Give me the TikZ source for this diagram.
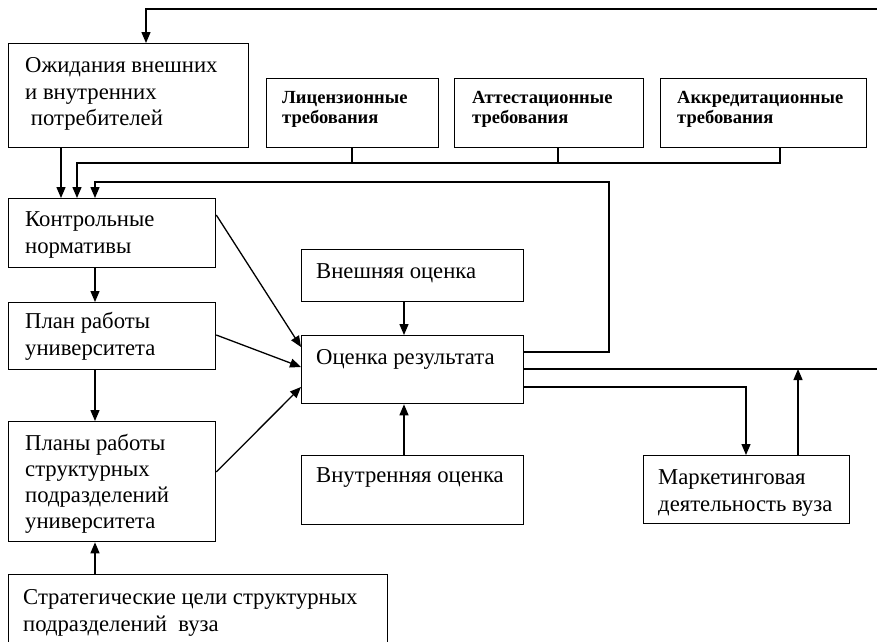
\documentclass[tikz,border=0pt]{standalone}
\usepackage{fontspec}
\setmainfont{Liberation Serif}
\usetikzlibrary{arrows.meta,calc}
\begin{document}
\begin{tikzpicture}[x=1pt,y=-1pt,
  box/.style={draw,line width=1.3pt,anchor=north west,inner sep=0pt},
  txt/.style={anchor=north west,inner sep=0pt,align=left,font=\fontsize{22.7}{26.5}\selectfont},
  btxt/.style={anchor=north west,inner sep=0pt,align=left,font=\fontsize{18.5}{20}\selectfont\bfseries},
  con/.style={line width=1.3pt},
  arr/.style={con,-{Triangle[length=11pt,width=9pt]}}]
\useasboundingbox (0,0) rectangle (877,641);
% boxes
\node[box,minimum width=240pt,minimum height=104pt] (exp) at (8,43) {};
\node[box,minimum width=172pt,minimum height=69pt] (lic) at (266,78) {};
\node[box,minimum width=189pt,minimum height=69pt] (att) at (454,78) {};
\node[box,minimum width=206pt,minimum height=69pt] (acc) at (660,78) {};
\node[box,minimum width=207pt,minimum height=69pt] (kon) at (8,198) {};
\node[box,minimum width=207pt,minimum height=67pt] (pln) at (8,302) {};
\node[box,minimum width=207pt,minimum height=120pt] (plns) at (8,421) {};
\node[box,minimum width=379pt,minimum height=90pt] (str) at (8,574) {};
\node[box,minimum width=222pt,minimum height=52pt] (ext) at (301,249) {};
\node[box,minimum width=222pt,minimum height=68pt] (oc) at (301,335) {};
\node[box,minimum width=222pt,minimum height=69pt] (int) at (301,455) {};
\node[box,minimum width=206pt,minimum height=68pt] (mkt) at (643,455) {};
% texts
\node[txt] (exp-t) at (25,57.5) {Ожидания внешних\\и внутренних\\\ потребителей};
\node[btxt] (lic-t) at (282,90.7) {Лицензионные\\требования};
\node[btxt] (att-t) at (472,90.7) {Аттестационные\\требования};
\node[btxt] (acc-t) at (677,90.7) {Аккредитационные\\требования};
\node[txt] (kon-t) at (25,211.5) {Контрольные\\нормативы};
\node[txt] (pln-t) at (25,312.5) {План работы\\университета};
\node[txt,font=\fontsize{22.7}{26}\selectfont] (plns-t) at (25,434) {Планы работы\\структурных\\подразделений\\университета};
\node[txt] (str-t) at (23,589.5) {Стратегические цели структурных\\подразделений\ \ вуза};
\node[txt] (ext-t) at (316,263.5) {Внешняя оценка};
\node[txt] (oc-t) at (316,349.5) {Оценка результата};
\node[txt] (int-t) at (316,467.5) {Внутренняя оценка};
\node[txt] (mkt-t) at (658,469.5) {Маркетинговая\\деятельность вуза};
% helper coordinates
\coordinate (x61) at (61,0);
\coordinate (x77) at (77,0);
\coordinate (x95) at (95,0);
\coordinate (x146) at (146,0);
\coordinate (x352) at (352,0);
\coordinate (x404) at (404,0);
\coordinate (x558) at (558,0);
\coordinate (x609) at (609,0);
\coordinate (x746) at (746,0);
\coordinate (x780) at (780,0);
\coordinate (x798) at (798,0);
\coordinate (x881) at (881,0);
\coordinate (y9) at (0,9);
\coordinate (y163) at (0,163);
\coordinate (y182) at (0,182);
\coordinate (y215) at (0,215);
\coordinate (y335) at (0,335);
\coordinate (y347) at (0,347);
\coordinate (y352) at (0,352);
\coordinate (y367) at (0,367);
\coordinate (y369) at (0,369);
\coordinate (y387) at (0,387);
\coordinate (y472) at (0,472);
% connectors
\draw[arr] (oc.east |- y369) -- (x881 |- y369) -- (x881 |- y9) -- (x146 |- y9) -- (exp.north -| x146);
\draw[arr] (exp.south -| x61) -- (kon.north -| x61);
\draw[con] (lic.south -| x352) -- (x352 |- y163);
\draw[con] (att.south -| x558) -- (x558 |- y163);
\draw[arr] (acc.south -| x780) -- (x780 |- y163) -- (x77 |- y163) -- (kon.north -| x77);
\draw[arr] (oc.east |- y352) -- (x609 |- y352) -- (x609 |- y182) -- (x95 |- y182) -- (kon.north -| x95);
\draw[arr] (kon.south -| x95) -- (pln.north -| x95);
\draw[arr] (pln.south -| x95) -- (plns.north -| x95);
\draw[arr] (str.north -| x95) -- (plns.south -| x95);
\draw[arr] (kon.east |- y215) -- (oc.west |- y347);
\draw[arr] (pln.east |- y335) -- (oc.west |- y367);
\draw[arr] (plns.east |- y472) -- (oc.west |- y387);
\draw[arr] (ext.south -| x404) -- (oc.north -| x404);
\draw[arr] (int.north -| x404) -- (oc.south -| x404);
\draw[arr] (oc.east |- y387) -- (x746 |- y387) -- (mkt.north -| x746);
\draw[arr] (mkt.north -| x798) -- (x798 |- y369);
\end{tikzpicture}
\end{document}
